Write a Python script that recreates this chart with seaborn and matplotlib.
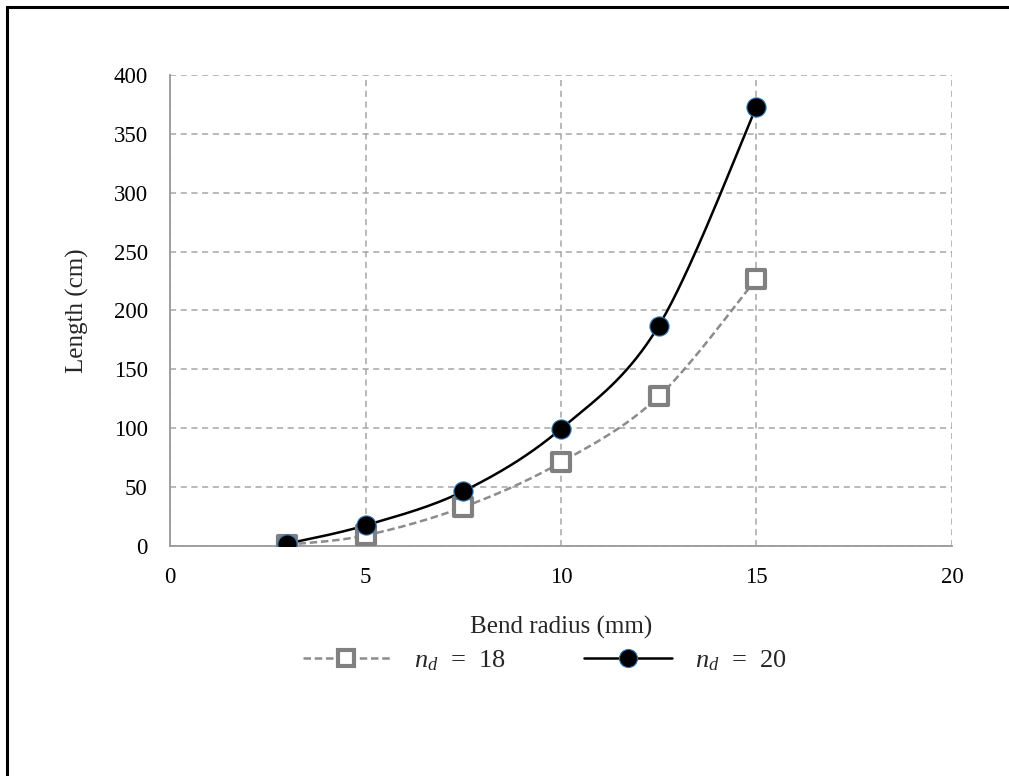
import matplotlib
matplotlib.use("Agg")
import matplotlib.pyplot as plt
from matplotlib.lines import Line2D
from matplotlib.patches import Rectangle
import numpy as np
import pandas as pd
import seaborn as sns

# data
radius = [3, 5, 7.5, 10, 12.5, 15]
len_18 = [1, 9, 33, 71, 127, 227]
len_20 = [2, 17.5, 46.5, 99.5, 187, 373]

xticks = [0, 5, 10, 15, 20]
yticks = [0, 50, 100, 150, 200, 250, 300, 350, 400]


def smooth(x, y, n=40):
    # excel-style smoothed line: cubic bezier with 1/6 tangents
    p = np.column_stack([x, y]).astype(float)
    pad = np.vstack([p[0], p, p[-1]])
    out = []
    t = np.linspace(0, 1, n)[:, None]
    for i in range(len(p) - 1):
        p0, p3 = pad[i + 1], pad[i + 2]
        c1 = p0 + (pad[i + 2] - pad[i]) / 6
        c2 = p3 - (pad[i + 3] - pad[i + 1]) / 6
        seg = ((1 - t) ** 3) * p0 + 3 * ((1 - t) ** 2) * t * c1 + 3 * (1 - t) * t ** 2 * c2 + t ** 3 * p3
        out.append(seg)
    out = np.vstack(out)
    return pd.DataFrame({"x": out[:, 0], "y": out[:, 1]})


sns.set_style("white")
plt.rcParams["font.family"] = ["Liberation Serif", "DejaVu Serif"]
plt.rcParams["mathtext.fontset"] = "custom"
plt.rcParams["mathtext.it"] = "Liberation Serif:italic"
plt.rcParams["mathtext.rm"] = "Liberation Serif"

fig = plt.figure(figsize=(10.09, 7.76), dpi=100)
ax = fig.add_axes([0.1685, 0.2964, 0.775, 0.607])

grey = "#808080"
c18 = smooth(radius, len_18)
c20 = smooth(radius, len_20)
sns.lineplot(data=c18, x="x", y="y", sort=False, ax=ax, color="#8c8c8c",
             lw=1.8, linestyle=(0, (3, 1.5)), zorder=3)
sns.lineplot(data=c20, x="x", y="y", sort=False, ax=ax, color="black",
             lw=1.8, zorder=4)
sns.scatterplot(x=radius, y=len_18, ax=ax, marker="s", s=150,
                facecolor="white", edgecolor=grey, linewidth=3, zorder=5)
sns.scatterplot(x=radius, y=len_20, ax=ax, marker="o", s=190,
                color="black", edgecolor="#2e75b6", linewidth=0.8, zorder=6)

ax.set_xlim(0, 20)
ax.set_ylim(0, 400)
ax.set_xticks(xticks)
ax.set_yticks(yticks)
ax.grid(True, color="#a6a6a6", linestyle=(0, (4, 3)), lw=1.1)
for s in ["top", "right"]:
    ax.spines[s].set_visible(False)
for s in ["left", "bottom"]:
    ax.spines[s].set_color("#999999")
    ax.spines[s].set_linewidth(1.3)
ax.tick_params(axis="y", labelsize=16.5, length=0, pad=16)
ax.tick_params(axis="x", labelsize=16.5, length=0, pad=15)
for lab in ax.get_xticklabels() + ax.get_yticklabels():
    lab.set_color("black")
ax.set_xlabel("Bend radius (mm)", fontsize=18, labelpad=20)
ax.set_ylabel("Length (cm)", fontsize=18, labelpad=18)

handles = [
    Line2D([], [], color="#8c8c8c", lw=1.8, linestyle=(0, (3, 1.5)), marker="s",
           markersize=12, markerfacecolor="white", markeredgecolor=grey, markeredgewidth=3),
    Line2D([], [], color="black", lw=1.8, marker="o", markersize=13,
           markerfacecolor="black", markeredgecolor="#2e75b6", markeredgewidth=0.8),
]
fig.legend(handles, [r"$n_d$  =  18", r"$n_d$  =  20"], loc="center",
           bbox_to_anchor=(0.54, 0.149), ncol=2, frameon=False, fontsize=19,
           handlelength=3.3, handletextpad=0.9, columnspacing=3.0)

# outer border (top and left edges show in the reference)
fig.patches.append(Rectangle((0.007, -0.05), 1.1, 0.9 + 0.141, transform=fig.transFigure,
                             fill=False, edgecolor="black", lw=2.2))

fig.savefig("out.png", dpi=100)
